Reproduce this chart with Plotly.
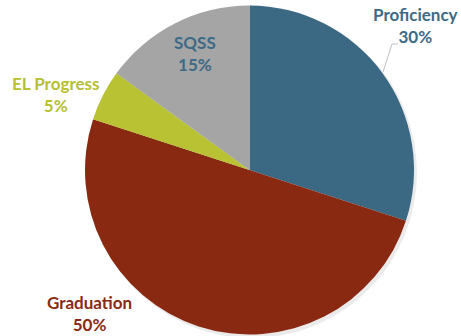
import plotly.graph_objects as go

# Accountability indicator weights
categories = ["Proficiency", "Graduation", "EL Progress", "SQSS"]
weights = [30, 50, 5, 15]

slice_colors = ["#3b6882", "#8a2912", "#b8c233", "#a5a5a5"]
label_colors = ["#3d6a86", "#8a2a12", "#b5c032", "#3d6a86"]

W, H = 461, 336

# label anchor points in pixels (x, y from top)
label_pos = {
    "Proficiency": (415, 26),
    "Graduation": (89, 313),
    "EL Progress": (56, 94),
    "SQSS": (195, 54),
}

def px(x, y):
    return x / W, 1 - y / H

fig = go.Figure()
fig.add_trace(go.Pie(
    labels=categories,
    values=weights,
    sort=False,
    direction="clockwise",
    rotation=0,
    marker=dict(colors=slice_colors, line=dict(width=0)),
    textinfo="none",
    hoverinfo="label+percent",
    showlegend=False,
    domain=dict(x=[85 / W, 414 / W], y=[1 - 335 / H, 1 - 5 / H]),
))

total = sum(weights)
annotations = []
for cat, val, col in zip(categories, weights, label_colors):
    x, y = px(*label_pos[cat])
    annotations.append(dict(
        x=x, y=y, xref="paper", yref="paper",
        xanchor="center", yanchor="middle",
        text=f"<b>{cat}<br>{round(100 * val / total)}%</b>",
        showarrow=False, align="center",
        font=dict(family="Lato, Open Sans, sans-serif", size=17, color=col),
    ))

# leader line for the Proficiency label
lx0, ly0 = px(398, 44)
lx1, ly1 = px(392, 44)
lx2, ly2 = px(383, 72)
shapes = [
    dict(type="path", xref="paper", yref="paper",
         path=f"M {lx0},{ly0} L {lx1},{ly1} L {lx2},{ly2}",
         line=dict(color="#bfbfbf", width=1)),
    # soft drop shadow under the pie
    dict(type="circle", xref="paper", yref="paper", layer="below",
         x0=87 / W, x1=417 / W, y0=1 - 338 / H, y1=1 - 7 / H,
         fillcolor="rgba(0,0,0,0.08)", line=dict(width=0)),
]

fig.update_layout(
    width=W, height=H,
    margin=dict(l=0, r=0, t=0, b=0),
    paper_bgcolor="white",
    plot_bgcolor="white",
    annotations=annotations,
    shapes=shapes,
)

fig.write_html("out.html")
